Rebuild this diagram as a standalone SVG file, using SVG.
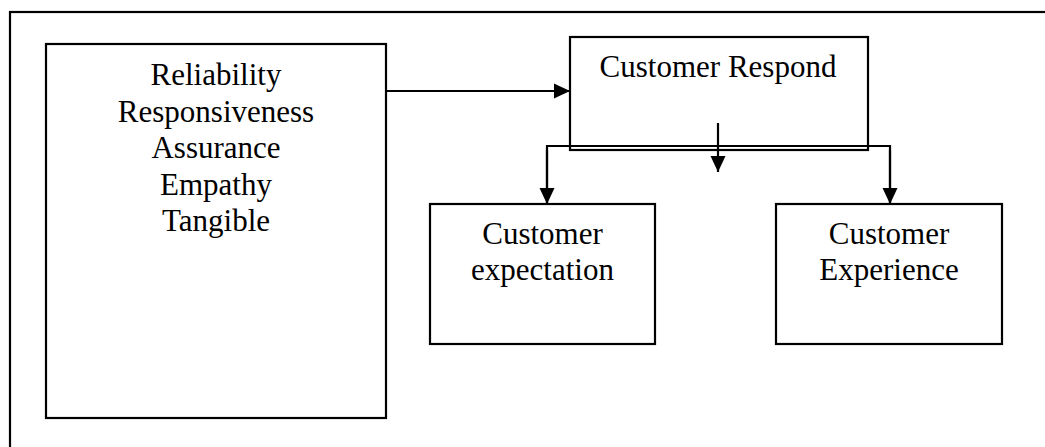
<svg xmlns="http://www.w3.org/2000/svg" width="1045" height="447" viewBox="0 0 1045 447">
  <defs>
    <style>
      .box { fill: none; stroke: #000; stroke-width: 2.2; }
      .conn { fill: none; stroke: #000; stroke-width: 2.2; }
      .lbl { font-family: "Liberation Serif", "Times New Roman", serif; font-size: 31px; fill: #000; text-anchor: middle; }
    </style>
    <marker id="arr" markerUnits="userSpaceOnUse" markerWidth="18" markerHeight="16" refX="16" refY="8" orient="auto">
      <path d="M0,0.5 L16,8 L0,15.5 Z" fill="#000"/>
    </marker>
  </defs>
  <rect width="1045" height="447" fill="#fff"/>
  <g id="frame">
    <rect class="box" x="10" y="12" width="1045" height="450"/>
  </g>
  <g id="dimensions">
    <rect class="box" x="46" y="44" width="340" height="374"/>
    <text class="lbl" x="216" y="85">Reliability</text>
    <text class="lbl" x="216" y="121.5">Responsiveness</text>
    <text class="lbl" x="216" y="158">Assurance</text>
    <text class="lbl" x="216" y="194.5">Empathy</text>
    <text class="lbl" x="216" y="231">Tangible</text>
  </g>
  <g id="respond">
    <rect class="box" x="570" y="37" width="298" height="113"/>
    <text class="lbl" x="718" y="77">Customer Respond</text>
  </g>
  <g id="expectation">
    <rect class="box" x="430" y="204" width="225" height="140"/>
    <text class="lbl" x="542.5" y="244">Customer</text>
    <text class="lbl" x="542.5" y="280">expectation</text>
  </g>
  <g id="experience">
    <rect class="box" x="776" y="204" width="226" height="140"/>
    <text class="lbl" x="889" y="244">Customer</text>
    <text class="lbl" x="889" y="280">Experience</text>
  </g>
  <g id="connectors">
    <line class="conn" x1="386" y1="91" x2="570" y2="91" marker-end="url(#arr)"/>
    <polyline class="conn" points="547,204 547,146 890,146 890,204" />
    <line class="conn" x1="547" y1="150" x2="547" y2="204" marker-end="url(#arr)"/>
    <line class="conn" x1="890" y1="150" x2="890" y2="204" marker-end="url(#arr)"/>
    <line class="conn" x1="718" y1="123" x2="718" y2="172" marker-end="url(#arr)"/>
  </g>
</svg>
